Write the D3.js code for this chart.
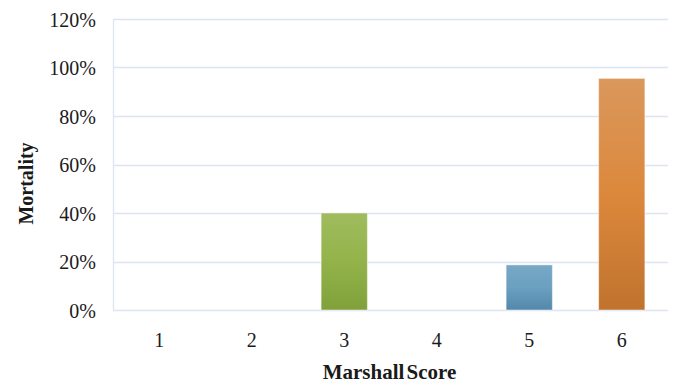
<!DOCTYPE html>
<html>
<head>
<meta charset="utf-8">
<script src="https://cdn.jsdelivr.net/npm/d3@7"></script>
<style>
  html, body { margin: 0; padding: 0; background: #fff; }
  svg { display: block; }
  text { font-family: "Liberation Serif", "Times New Roman", serif; fill: #1a1a1a; }
</style>
</head>
<body>
<div id="chart"></div>
<script>
// Mortality by Marshall score
const scores = ["1", "2", "3", "4", "5", "6"];
const mortality = [0, 0, 40, 0, 18.6, 95.5];
const yTicks = [0, 20, 40, 60, 80, 100, 120];
const barColors = {
  "3": ["#a0bc5e", "#93b34a", "#80a03a"],
  "5": ["#78a8c6", "#6ba0c0", "#5388ab"],
  "6": ["#da985c", "#dc883c", "#c0732e"]
};

const W = 679, H = 384;
const margin = { top: 19, right: 11, bottom: 74, left: 113 };

const svg = d3.select("#chart").append("svg")
  .attr("width", W).attr("height", H);

const defs = svg.append("defs");
Object.entries(barColors).forEach(([k, c]) => {
  const g = defs.append("linearGradient")
    .attr("id", "grad" + k)
    .attr("x1", 0).attr("y1", 0).attr("x2", 0).attr("y2", 1);
  g.append("stop").attr("offset", "0%").attr("stop-color", c[0]);
  g.append("stop").attr("offset", "50%").attr("stop-color", c[1]);
  g.append("stop").attr("offset", "100%").attr("stop-color", c[2]);
});

const x = d3.scaleBand().domain(scores)
  .range([margin.left, W - margin.right]).paddingInner(0.5).paddingOuter(0.25);
const y = d3.scaleLinear().domain([0, 120])
  .range([H - margin.bottom, margin.top]);

// gridlines
svg.append("g")
  .selectAll("line").data(yTicks).join("line")
  .attr("x1", margin.left).attr("x2", W - margin.right)
  .attr("y1", d => Math.round(y(d)) + 0.5).attr("y2", d => Math.round(y(d)) + 0.5)
  .attr("stroke", "#dde4f2").attr("stroke-width", 1.3);

// left axis line
svg.append("line")
  .attr("x1", margin.left + 0.5).attr("x2", margin.left + 0.5)
  .attr("y1", y(120)).attr("y2", y(0))
  .attr("stroke", "#dde4f2").attr("stroke-width", 1.3);

// y axis labels
const yAxis = d3.axisLeft(y).tickValues(yTicks).tickSize(0).tickPadding(17)
  .tickFormat(d => d + "%");
svg.append("g").attr("transform", `translate(${margin.left},0)`)
  .call(yAxis)
  .call(g => g.select(".domain").remove())
  .selectAll("text")
  .attr("dy", "0.37em")
  .style("font-family", "'Liberation Serif', serif")
  .style("font-size", "20px").attr("fill", "#1a1a1a");

// x axis labels
const xAxis = d3.axisBottom(x).tickSize(0).tickPadding(23);
svg.append("g").attr("transform", `translate(0,${y(0)})`)
  .call(xAxis)
  .call(g => g.select(".domain").remove())
  .selectAll("text")
  .style("font-family", "'Liberation Serif', serif")
  .style("font-size", "20px").attr("fill", "#1a1a1a");

// bars
svg.append("g")
  .selectAll("rect").data(scores.map((s, i) => ({ s, v: mortality[i] })).filter(d => d.v > 0))
  .join("rect")
  .attr("x", d => x(d.s))
  .attr("width", x.bandwidth())
  .attr("y", d => y(d.v))
  .attr("height", d => y(0) - y(d.v))
  .attr("fill", d => `url(#grad${d.s})`)
  .attr("stroke", "rgba(255,255,255,0.45)")
  .attr("stroke-width", 1);

// axis titles
svg.append("text")
  .attr("x", (margin.left + W - margin.right) / 2 - 1)
  .attr("y", 379)
  .attr("text-anchor", "middle")
  .style("font-size", "21px").style("font-weight", "bold")
  .style("word-spacing", "-3px")
  .text("Marshall Score");

svg.append("text")
  .attr("transform", `translate(33,183.5) rotate(-90)`)
  .attr("text-anchor", "middle")
  .style("font-size", "20px").style("font-weight", "bold")
  .text("Mortality");
</script>
</body>
</html>
